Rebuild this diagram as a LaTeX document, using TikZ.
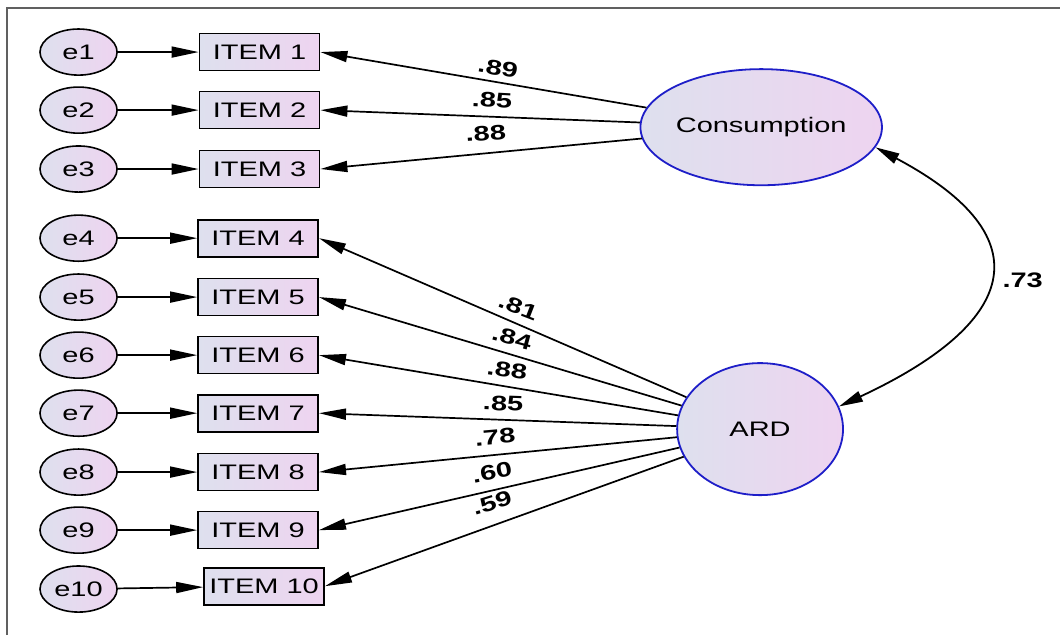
\documentclass[tikz,border=0pt]{standalone}
\usepackage{fontspec}
\usetikzlibrary{shapes.geometric, arrows.meta}
\newfontfamily\amosfont[FakeStretch=1.38]{Liberation Sans}
\definecolor{lavleft}{RGB}{222,224,238}
\definecolor{lavright}{RGB}{238,212,240}
\definecolor{latblue}{RGB}{30,30,200}
\definecolor{framegray}{RGB}{96,96,96}

\begin{document}
\begin{tikzpicture}
        [err/.style={draw, shape=ellipse, line width=1.6pt, left color=lavleft, right color=lavright, inner sep=0, minimum width=2.71cm, minimum height=1.62cm, font={\amosfont\fontsize{21}{25}\selectfont}},
         item/.style={draw, shape=rectangle, line width=1.7pt, left color=lavleft, right color=lavright, inner sep=0, minimum width=4.22cm, minimum height=1.3cm, font={\amosfont\fontsize{21}{25}\selectfont}},
         latent/.style={draw=latblue, shape=ellipse, line width=1.8pt, left color=lavleft, right color=lavright, inner sep=0, font={\amosfont\fontsize{21}{25}\selectfont}},
         wt/.style={inner sep=0, font={\amosfont\bfseries\fontsize{21}{25}\selectfont}},
         path/.style={line width=1.7pt, -{Triangle[length=27pt, width=11pt]}},
         cov/.style={line width=1.8pt, {Triangle[length=24pt, width=11pt]}-{Triangle[length=24pt, width=11pt]}}]

        \useasboundingbox (0, 0) rectangle (37.25, 22.32);
        \draw[framegray, line width=2.2pt] (0.26, 0) -- (0.26, 22.04) -- (37.25, 22.04);

        \node[err] (e1) at (2.76, 20.49) {e1};
        \node[err] (e2) at (2.76, 18.45) {e2};
        \node[err] (e3) at (2.76, 16.38) {e3};
        \node[err] (e4) at (2.76, 13.95) {e4};
        \node[err] (e5) at (2.76, 11.88) {e5};
        \node[err] (e6) at (2.76, 9.84) {e6};
        \node[err] (e7) at (2.76, 7.80) {e7};
        \node[err] (e8) at (2.76, 5.73) {e8};
        \node[err] (e9) at (2.76, 3.69) {e9};
        \node[err] (e10) at (2.76, 1.62) {e10};

        \node[item] (i1) at (9.12, 20.49) {ITEM 1};
        \node[item] (i2) at (9.12, 18.45) {ITEM 2};
        \node[item] (i3) at (9.12, 16.38) {ITEM 3};
        \node[item] (i4) at (9.07, 13.95) {ITEM 4};
        \node[item] (i5) at (9.07, 11.88) {ITEM 5};
        \node[item] (i6) at (9.07, 9.84) {ITEM 6};
        \node[item] (i7) at (9.07, 7.80) {ITEM 7};
        \node[item] (i8) at (9.07, 5.73) {ITEM 8};
        \node[item] (i9) at (9.07, 3.69) {ITEM 9};
        \node[item] (i10) at (9.28, 1.72) {ITEM 10};

        \node[latent, minimum width=7.35cm, minimum height=4.08cm] (cons) at (26.75, 17.85) {Consumption};
        \node[latent, minimum width=5.83cm, minimum height=4.64cm] (ard) at (26.71, 7.24) {ARD};

        \draw[path] (e1) -- (i1);
        \draw[path] (e2) -- (i2);
        \draw[path] (e3) -- (i3);
        \draw[path] (e4) -- (i4);
        \draw[path] (e5) -- (i5);
        \draw[path] (e6) -- (i6);
        \draw[path] (e7) -- (i7);
        \draw[path] (e8) -- (i8);
        \draw[path] (e9) -- (i9);
        \draw[path] (e10) -- (i10);

        \draw[path] (cons) -- (i1.east);
        \draw[path] (cons) -- (i2.east);
        \draw[path] (cons) -- (i3.east);
        \draw[path] (ard) -- (i4.east);
        \draw[path] (ard) -- (i5.east);
        \draw[path] (ard) -- (i6.east);
        \draw[path] (ard) -- (i7.east);
        \draw[path] (ard) -- (i8.east);
        \draw[path] (ard) -- (i9.east);
        \draw[path] (ard) -- (i10.east);

        \draw[cov] (cons.-10) to[out=-28, in=25, looseness=1.9] node[wt, right=14pt] (r) {.73} (ard.16);

        % loadings
        \node[wt, rotate=-10] (w1) at (17.50, 19.93) {.89};
        \node[wt, rotate=-3] (w2) at (17.29, 18.80) {.85};
        \node[wt, rotate=4] (w3) at (17.07, 17.64) {.88};
        \node[wt, rotate=-21] (w4) at (18.21, 11.53) {.81};
        \node[wt, rotate=-15] (w5) at (17.99, 10.44) {.84};
        \node[wt, rotate=-8] (w6) at (17.82, 9.31) {.88};
        \node[wt, rotate=-2] (w7) at (17.68, 8.15) {.85};
        \node[wt, rotate=5] (w8) at (17.40, 6.96) {.78};
        \node[wt, rotate=11] (w9) at (17.29, 5.73) {.60};
        \node[wt, rotate=17] (w10) at (17.29, 4.64) {.59};

      \end{tikzpicture}
\end{document}
